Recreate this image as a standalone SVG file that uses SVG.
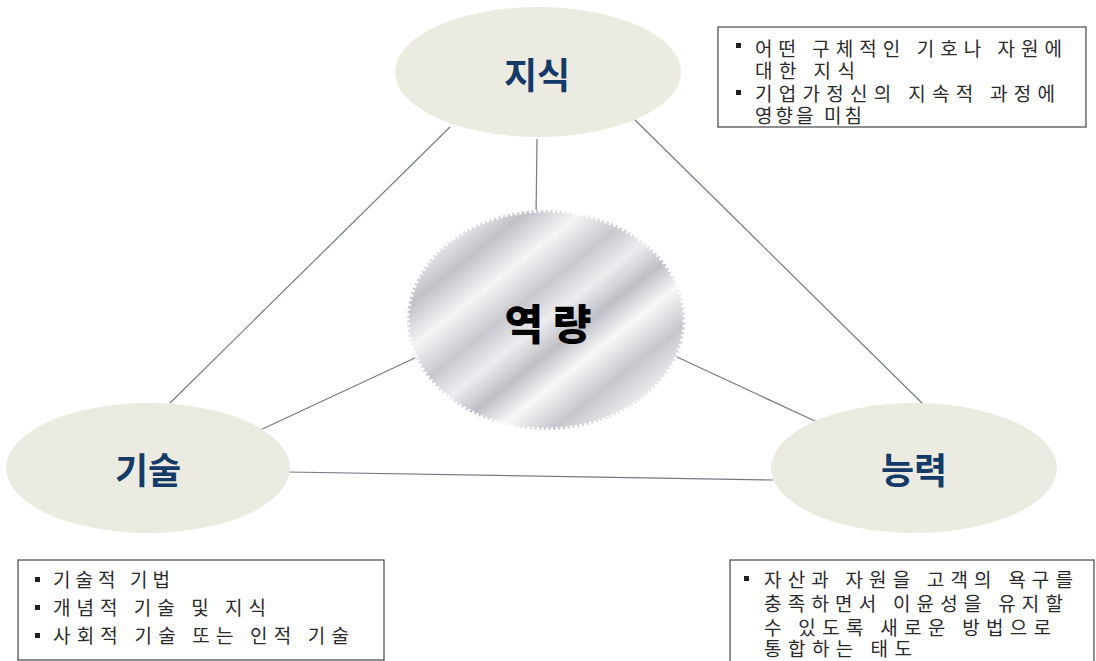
<svg xmlns="http://www.w3.org/2000/svg" width="1096" height="661" viewBox="0 0 1096 661">
<defs>
<linearGradient id="metal" x1="0" y1="0" x2="1" y2="1">
<stop offset="0" stop-color="#cfd0d4"/>
<stop offset="0.12" stop-color="#f1f1f3"/>
<stop offset="0.22" stop-color="#c1c2c8"/>
<stop offset="0.32" stop-color="#f5f5f7"/>
<stop offset="0.42" stop-color="#c8c9ce"/>
<stop offset="0.5" stop-color="#ededf0"/>
<stop offset="0.58" stop-color="#bfc0c6"/>
<stop offset="0.66" stop-color="#f8f8f9"/>
<stop offset="0.76" stop-color="#c6c7cc"/>
<stop offset="0.86" stop-color="#efeff1"/>
<stop offset="1" stop-color="#cbccd1"/>
</linearGradient>
<style>
.node{fill:#ecebe1}
.lbl{font-family:"Noto Sans CJK KR","Noto Sans",sans-serif;font-weight:700;font-size:36px;fill:#143a68;text-anchor:middle}
.conn line{stroke:#737a87;stroke-width:1.2}
.box{fill:#ffffff;stroke:#444;stroke-width:1.2}
.txt{font-family:"Noto Sans CJK KR","Noto Sans",sans-serif;font-size:19px;fill:#2a2a2a}
.bul{fill:#222}
</style>
</defs>
<rect width="1096" height="661" fill="#ffffff"/>

<g id="connectors" class="conn">
<line x1="450" y1="127" x2="170" y2="403"/>
<line x1="633" y1="118" x2="923" y2="404"/>
<line x1="537" y1="139" x2="536" y2="218"/>
<line x1="417" y1="357" x2="256" y2="432"/>
<line x1="677" y1="357" x2="817" y2="422"/>
<line x1="288" y1="472" x2="773" y2="480"/>
</g>

<g id="node-jisik">
<ellipse class="node" cx="538" cy="72" rx="143" ry="65"/>
<text class="lbl" x="537" y="89">지식</text>
</g>

<g id="node-gisul">
<ellipse class="node" cx="148" cy="468" rx="142" ry="65"/>
<text class="lbl" x="148" y="484">기술</text>
</g>

<g id="node-neungryeok">
<ellipse class="node" cx="914" cy="468" rx="143" ry="65"/>
<text class="lbl" x="914" y="484">능력</text>
</g>

<g id="node-center">
<ellipse cx="546" cy="320" rx="139" ry="110" fill="url(#metal)"/>
<ellipse cx="546" cy="320" rx="138" ry="109" fill="none" stroke="#ffffff" stroke-width="3" stroke-dasharray="2.4 2.4"/>
<text x="548" y="340" font-family="'Noto Sans CJK KR',sans-serif" font-weight="900" font-size="42" fill="#000" text-anchor="middle">역 량</text>
</g>

<g id="box-jisik">
<rect class="box" x="718" y="27" width="368" height="100"/>
<rect class="bul" x="736" y="43" width="5" height="5"/>
<text class="txt" x="755" y="56" textLength="307" lengthAdjust="spacing">어떤 구체적인 기호나 자원에</text>
<text class="txt" x="755" y="78" textLength="100" lengthAdjust="spacing">대한 지식</text>
<rect class="bul" x="736" y="90" width="5" height="5"/>
<text class="txt" x="755" y="101" textLength="300" lengthAdjust="spacing">기업가정신의 지속적 과정에</text>
<text class="txt" x="755" y="123" textLength="107" lengthAdjust="spacing">영향을 미침</text>
</g>

<g id="box-gisul">
<rect class="box" x="18" y="560" width="366" height="100"/>
<rect class="bul" x="35" y="577" width="5" height="5"/>
<text class="txt" x="53" y="587" textLength="117" lengthAdjust="spacing">기술적 기법</text>
<rect class="bul" x="35" y="605" width="5" height="5"/>
<text class="txt" x="53" y="615" textLength="213" lengthAdjust="spacing">개념적 기술 및 지식</text>
<rect class="bul" x="35" y="633" width="5" height="5"/>
<text class="txt" x="53" y="643" textLength="296" lengthAdjust="spacing">사회적 기술 또는 인적 기술</text>
</g>

<g id="box-neungryeok">
<rect class="box" x="730" y="560" width="364" height="102"/>
<rect class="bul" x="744" y="576" width="5" height="5"/>
<text class="txt" x="764" y="587" textLength="309" lengthAdjust="spacing">자산과 자원을 고객의 욕구를</text>
<text class="txt" x="764" y="611" textLength="299" lengthAdjust="spacing">충족하면서 이윤성을 유지할</text>
<text class="txt" x="764" y="635" textLength="287" lengthAdjust="spacing">수 있도록 새로운 방법으로</text>
<text class="txt" x="764" y="656" textLength="148" lengthAdjust="spacing">통합하는 태도</text>
</g>
</svg>
